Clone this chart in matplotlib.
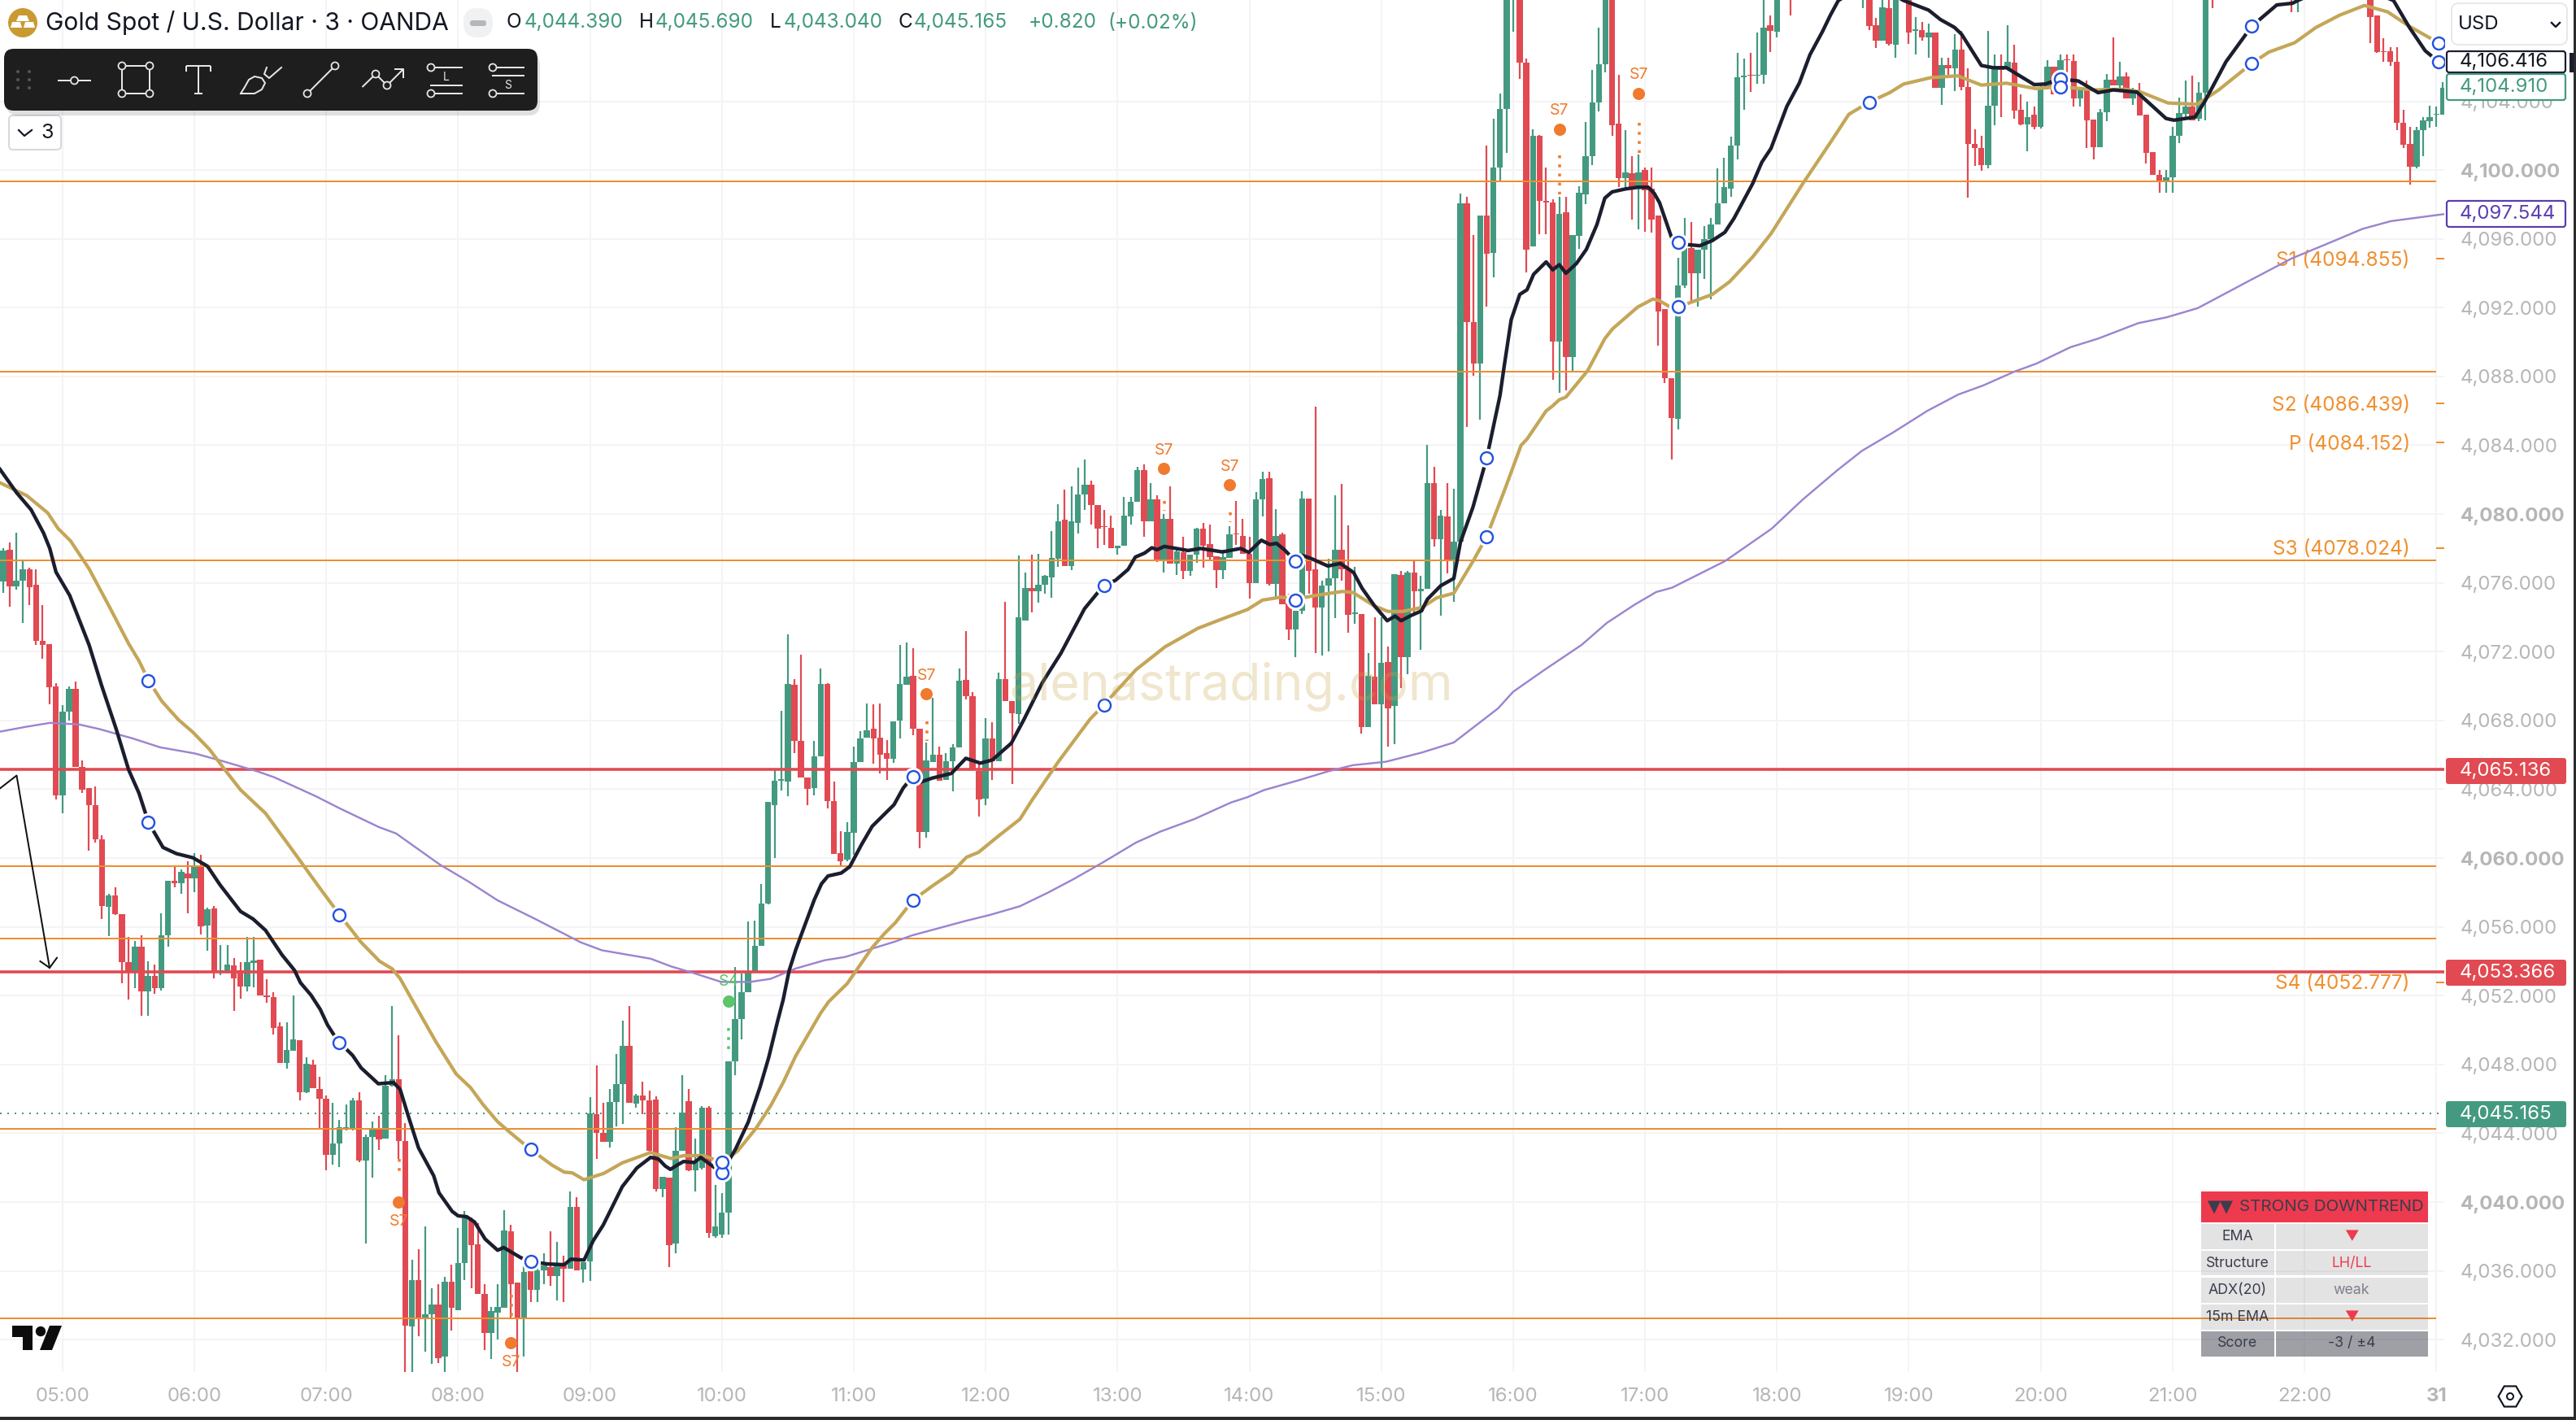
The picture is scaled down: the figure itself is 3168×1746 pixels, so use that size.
import numpy as np
import matplotlib
matplotlib.use("Agg")
import matplotlib.pyplot as plt
from matplotlib.patches import Rectangle, FancyBboxPatch, Circle, RegularPolygon, Polygon

plt.rcParams['font.family'] = ['Inter', 'DejaVu Sans']

nan = float("nan")  # bars that sit above the visible frame

# -------- candles: first value is the 04:33 bar, one bar every 3 minutes --------
first_bar = -9
opens = [
    4076.09,4077.93,4075.78,4076.12,4076.8,4075.87,4072.65,4072.43,4069.97,
    4063.64,4068.52,4069.85,4065.32,4064.06,4063.06,4061.07,4057.18,4057.81,4056.73,
    4053.95,4053.33,4054.85,4052.25,4053.15,4052.43,4055.5,4058.68,4058.54,4059.1,
    4058.8,4059.53,4056.1,4057.07,4053.33,4053.37,4053.74,4053.47,4052.54,4053.9,
    4054.1,4052.03,4051.9,4050.2,4048.08,4048.8,4049.4,4046.38,4048,4046.56,
    4046.02,4042.75,4043.4,4044.2,4044.3,4045.9,4042.43,4043.77,4044.2,4043.68,
    4046.77,4047.15,4043.54,4032.75,4035.47,4033.27,4033.48,4034.04,4031,4035.37,
    4033.72,4036.45,4038.95,4037.53,4034.65,4032.4,4033.55,4033.87,4038.3,4035.34,
    4033.27,4036,4034.9,4036.05,4036.23,4035.7,4036.3,4036.14,4039.7,4036.06,
    4036.55,4045.1,4044,4043.5,4045.84,4046.88,4049.07,4045.7,4046.2,4045.9,
    4045.98,4040.74,4041.4,4037.6,4043,4045.86,4041.83,4042,4045.5,4038,
    4038.1,4039.4,4048.2,4050.63,4052.2,4053.34,4054.9,4057.37,4063.1,4064.5,
    4064.44,4070.06,4066.8,4064.68,4064.07,4065.93,4070.1,4063.3,4060.3,4059.9,
    4061.47,4065.6,4067,4067.5,4067,4066.08,4065.76,4067.98,4070.06,4070.59,
    4067.5,4061.5,4065.6,4066,4064.56,4065.65,4066.44,4070.35,4069.43,4065.04,
    4063.47,4066.97,4065.64,4070.4,4069.14,4068.35,4073.8,4075.68,4075.5,4075.9,
    4076.3,4077.4,4079.65,4077,4079.5,4081.16,4081.7,4080.53,4079.3,4079.2,
    4078,4078.17,4079.85,4080.72,4082.58,4079.6,4080.85,4077.3,4079.7,4077.1,
    4077.8,4076.7,4077.65,4079.14,4078.25,4077.54,4076.75,4077.46,4078.86,4078.75,
    4077.7,4076,4080.87,4082.1,4075.96,4078.83,4074.8,4073.28,4074.4,4080.88,
    4076.78,4074.57,4075.83,4076.26,4077.9,4076.8,4074.2,4074.18,4067.6,4070.56,
    4068.95,4071.4,4068.85,4076.46,4071.66,4076.62,4075.5,4075.64,4081.78,4078.56,
    4079.88,4077.25,4078.39,4098.05,4091.17,4088.75,4097.38,4095.2,4100.14,4103.53,
    4110.9,4111,4106.24,4095.57,4102,4098.19,4098.1,4090.05,4097.56,4089.15,
    4096.16,4098.6,4100.8,4103.94,4106.14,4110.5,4102.7,4099.55,4099.8,4099,
    4100,4098.9,4097.38,4091.9,4087.9,4085.53,4093.3,4095.48,4093.98,4095.39,
    4096,4096.84,4098.06,4098.9,4101.4,4105.4,4105.55,4105.5,4105.55,4108.4,
    4108.05,4110,4111.5,*[nan]*10,
    4110.5,4111,4108.4,4107.5,4109.43,4107.3,4111,4110.5,4108.1,4108.15,4107.7,4108,4104.77,4106.1,4105.9,4107,4104.85,
    4101.5,4101.3,4100.3,4103.75,4105.85,4105.85,4106.25,4103.5,4102.64,4103.2,
    4102.5,4104.8,4106.03,4105.1,4106.45,4106.35,4104.18,4104.8,4102.95,4101.35,
    4103.35,4105.25,4104.94,4105.46,4104.15,4104.5,4103.2,4101.05,4099.7,4099.33,
    4099.6,4102,4103.25,4103.7,4102.96,4104.5,4111,*[nan]*11,4111,4110,*[nan]*10,
    4111,4109,4106.9,4106.9,4106.3,4102.77,4101.5,4100.2,4102.3,4102.85,4103.2,4103.2,
]
highs = [
    4078.0,4078.35,4078.9,4077.26,4076.87,4076.8,4074.7,4072.43,4070.15,
    4068.88,4070,4070.25,4065.7,4064.06,4064.15,4061.34,4057.9,4058.3,4056.73,
    4055.44,4055.2,4055.5,4054,4053.83,4056.8,4058.7,4059.53,4059.35,4059.8,
    4060.3,4060.17,4057.1,4057.2,4054.95,4054.95,4054.2,4053.95,4055.4,4055.4,
    4054.1,4052.98,4052.2,4050.45,4050.45,4052,4049.4,4048.44,4048.26,4047.3,
    4046.2,4045.75,4044.8,4045.66,4046.07,4046.4,4043.95,4044.7,4045.03,4047.36,
    4051.4,4049.7,4044.6,4036.65,4037.25,4038.57,4034.98,4035.25,4035.64,4036.36,
    4038.48,4039.5,4039.1,4038.75,4035.25,4033.9,4035.25,4039.55,4038.66,4035.34,
    4036.4,4037.04,4036.4,4037.04,4038.3,4037.7,4036.86,4040.63,4040.27,4036.5,
    4046.1,4047.96,4045.75,4046.56,4048.6,4050.56,4051.4,4046.3,4047,4046.5,
    4046.17,4041.47,4041.4,4044.34,4047.38,4046.58,4043.7,4045.56,4045.56,4041,
    4040.5,4048.2,4053.65,4053.3,4056.3,4056.35,4058.48,4063.28,4065.16,4068.54,
    4073,4070.4,4071.84,4064.68,4066.8,4071,4070.15,4064.44,4061.54,4062.1,
    4066.5,4067.4,4069,4068.95,4069,4066.85,4067.93,4072.4,4072.52,4072.2,
    4067.5,4066.7,4069.3,4066.5,4066.1,4066.6,4071,4073.2,4069.67,4065.64,
    4068.13,4067.9,4070.78,4074.88,4069.14,4077.57,4076.6,4077.65,4077.68,4076.46,
    4079,4080.56,4081.43,4081.6,4082.7,4083.17,4081.95,4080.53,4080.25,4079.9,
    4078.17,4081,4081,4082.77,4082.9,4081.8,4081.1,4080,4081.6,4078,
    4078.67,4077.65,4079.2,4079.5,4079.4,4077.54,4077.9,4079.3,4080.75,4079.7,
    4078.67,4081.27,4082.45,4082.45,4080.3,4078.9,4075.36,4073.6,4081.35,4080.88,
    4086.24,4076.15,4077.4,4081.1,4081.74,4079.33,4076.94,4074.18,4071.9,4074,
    4074,4072.3,4076.5,4076.7,4076.7,4077.25,4076.4,4084.03,4082.77,4080.25,
    4081.78,4081.46,4098.64,4098.46,4096.2,4097.38,4101.44,4103,4104.47,4113,
    4113,4112,4106.47,4102.39,4102.04,4100.14,4098.28,4098.46,4098.46,4096.2,
    4099.06,4102.8,4105.8,4108.3,4112,4111,4105.55,4102.3,4100.8,4100.9,
    4100.13,4100.14,4097.38,4091.9,4087.9,4094.9,4097.2,4097,4095.39,4096.74,
    4097.2,4100.1,4100.7,4101.93,4106.83,4106.47,4106.83,4108,4110,4109,
    4112,4112,4112,*[nan]*10,
    4112,4111.5,4108.84,4110.5,4110.5,4111,4111.5,4111,4108.9,4108.6,4108.5,4108,4106.55,4106.55,4107.9,4108.1,4105.9,
    4102.37,4102,4108.1,4106.7,4106.7,4108.4,4107.3,4104.4,4104,4103.7,
    4105,4106.4,4106.03,4106.7,4106.7,4106.7,4104.8,4105.2,4102.95,4103.55,
    4105.6,4107.7,4106.3,4105.7,4104.8,4105.05,4103.2,4101.05,4100,4100,
    4102.53,4104.2,4105.2,4105.5,4105.1,4113,4112,*[nan]*11,4112,4112,*[nan]*10,
    4112,4109,4107.65,4107.15,4107.15,4103.5,4102.5,4102.53,4103.1,4103.75,4103.7,4105.1,
]
lows = [
    4075.4,4074.6,4075.6,4073.65,4074.73,4072.38,4071.6,4068.94,4063.42,
    4062.6,4068,4065.32,4063.8,4060.44,4060.9,4056.46,4055.46,4056.7,4052.7,
    4051.76,4052.45,4050.83,4050.83,4052.1,4052.3,4054.85,4058.3,4057.9,4056.8,
    4058,4055.55,4054.6,4053,4053.2,4053.3,4051.1,4051.8,4052.25,4052.5,
    4052.03,4051.58,4049.73,4048.08,4047.76,4048.8,4045.9,4046.33,4046.6,4044.3,
    4041.85,4042.2,4042.03,4044.15,4044.15,4042.3,4037.6,4041.44,4043.05,4043.68,
    4046.73,4042.5,4030.1,4030.1,4032.2,4031.3,4030.6,4030.66,4030.1,4032.55,
    4033.72,4035.44,4035,4034.65,4031.4,4030.9,4032,4033.87,4033.27,4030.1,
    4031,4034.17,4034.17,4035.25,4035.15,4034.3,4034.2,4036.14,4036.05,4035.34,
    4035.43,4042.5,4043.5,4043.18,4044.4,4044.55,4045.75,4045.5,4045.1,4042.9,
    4040.6,4040.3,4036.2,4037,4043,4041.8,4040.6,4041.9,4037.9,4037.9,
    4037.9,4038.1,4047.4,4049.47,4052.2,4053.34,4054.9,4057.3,4060,4063.95,
    4063.6,4066.1,4064.68,4063.06,4063.64,4065.93,4062.87,4060.26,4059.54,4059.83,
    4060.2,4065.6,4067,4065.47,4064.9,4064.56,4065.52,4066.97,4070.06,4067.16,
    4060.55,4061.18,4065.6,4064.5,4064.56,4063.9,4066.44,4069.2,4065.16,4062.4,
    4063.1,4064.56,4065.64,4069.14,4064.3,4067.8,4073.8,4074.3,4074.86,4075.36,
    4075.13,4076.94,4077,4076.75,4078.86,4080.25,4079.4,4078,4078.2,4078,
    4077.65,4078.17,4079.4,4080.72,4078.67,4079.6,4077.2,4076.6,4077.1,4076.45,
    4076.2,4076.43,4077.17,4076.9,4077.25,4075.7,4076.2,4077.46,4078.2,4077.7,
    4075.1,4076,4079.85,4075.83,4075.1,4074.76,4072.68,4071.7,4074.18,4075.36,
    4071.9,4071.8,4072,4073.95,4076.15,4073.1,4073.63,4067.24,4067.6,4068.95,
    4065.27,4066.5,4066.6,4069.9,4070.7,4074.1,4072.13,4075.64,4078.1,4074.1,
    4076.57,4074.89,4078.39,4085.08,4088.06,4085.5,4092.04,4093.76,4099.37,4101,
    4108.05,4105.3,4094.03,4095.57,4096.26,4096.26,4087.79,4087.07,4087.2,4088.24,
    4095.4,4098,4100.27,4103.43,4105.7,4102,4099,4098.8,4097.1,4096.56,
    4096.4,4096.38,4089.78,4087.6,4083.18,4084.9,4093.13,4092.4,4092.04,4093.67,
    4092.5,4096.84,4098.06,4098.46,4100.6,4103.5,4104.55,4105,4105,4106.85,
    4107.7,4110,4109,*[nan]*10,
    4109.4,4108.15,4107.1,4107.5,4107.26,4106.55,4110,4107.33,4106.7,4107.5,4106.55,4104.77,4103.8,4105.5,4104.6,4104.66,4098.4,
    4100.25,4099.96,4100.1,4102.6,4103.1,4105.8,4103,4102.6,4101.1,4102.37,
    4102.4,4104.7,4104.4,4104.7,4105.7,4103.67,4103.7,4101.27,4100.64,4101.35,
    4102.85,4104.94,4104.8,4104.15,4103.8,4103.16,4100.4,4099.7,4098.67,4098.67,
    4098.67,4101.55,4103.1,4102.9,4102.85,4102.9,4109.42,*[nan]*11,4109.2,4109.2,*[nan]*10,
    4107.4,4106.8,4106.27,4106.05,4102.3,4101.3,4099.14,4100.1,4100.8,4102.45,4102.5,4103.2,
]
closes = [
    4077.86,4075.78,4076.12,4076.8,4075.73,4072.65,4072.38,4069.94,4063.64,
    4068.52,4069.85,4065.32,4063.97,4063.06,4061.07,4057.23,4057.81,4056.73,4053.95,
    4053.33,4054.85,4052.25,4053.15,4052.43,4055.5,4058.68,4058.54,4059.2,4058.8,
    4059.53,4056.05,4057.04,4053.33,4053.47,4053.8,4052.99,4052.54,4053.95,4054.06,
    4052.03,4051.9,4050.1,4048.08,4048.85,4049.48,4046.38,4048.03,4046.6,4046.02,
    4042.75,4043.4,4044.36,4044.37,4045.9,4042.4,4043.77,4044.2,4043.65,4046.77,
    4047.15,4043.54,4032.8,4035.47,4033.27,4033.48,4034.04,4030.94,4035.37,4033.84,
    4036.45,4039.07,4037.5,4034.65,4032.4,4033.67,4033.9,4038.33,4035.25,4033.27,
    4035.93,4034.9,4036.05,4036.3,4035.7,4036.3,4036.14,4039.73,4036.05,4036.5,
    4045.17,4044,4043.5,4045.84,4046.88,4049.1,4045.75,4046.2,4045.9,4043,
    4040.74,4041.47,4037.5,4043,4045.18,4041.83,4042.4,4045.5,4038.2,4038.6,
    4039.4,4048.2,4050.63,4052.2,4053.34,4054.9,4057.37,4063.28,4064.5,4064.6,
    4070.1,4066.8,4064.68,4064.03,4065.93,4070.1,4063.3,4060.26,4059.83,4061.5,
    4065.6,4066.97,4067.45,4066.97,4066,4065.76,4067.93,4070.1,4070.54,4067.5,
    4061.5,4065.7,4066,4064.5,4065.65,4066.42,4070.3,4069.4,4065.16,4063.4,
    4066.97,4065.64,4070.4,4069.14,4068.4,4073.99,4075.68,4075.5,4075.9,4076.43,
    4077.44,4079.6,4077,4079.57,4081.16,4081.7,4080.53,4079.14,4079.24,4078,
    4078.17,4079.9,4080.72,4082.58,4079.6,4080.85,4077.25,4079.7,4077.1,4077.85,
    4076.7,4077.65,4079.14,4078.17,4077.5,4076.75,4077.5,4078.8,4078.8,4077.7,
    4076,4080.87,4082.06,4075.96,4078.75,4074.76,4073.28,4074.4,4080.92,4076.7,
    4074.57,4075.83,4076.26,4077.9,4076.8,4074.13,4074.26,4067.6,4070.6,4068.95,
    4071.34,4068.7,4076.5,4071.66,4076.62,4075.5,4075.64,4081.78,4078.56,4079.93,
    4077.25,4078.39,4098.05,4091.14,4088.75,4097.38,4095.12,4100.14,4103.53,4111,
    4112,4106.24,4095.39,4102,4098.19,4098.13,4090.05,4097.47,4089.15,4096.2,
    4098.7,4100.8,4103.94,4106.14,4110.5,4102.6,4099.55,4099.87,4099,4099.87,
    4098.82,4097.1,4091.77,4087.9,4085.6,4093.3,4095.48,4093.98,4095.39,4096,
    4096.84,4098.06,4099,4101.4,4105.4,4105.5,4105.48,4105.55,4108.3,4108.1,
    4110,4111.5,4110.5,*[nan]*10,
    4111,4108.36,4107.5,4109.46,4107.34,4110.2,4110.5,4108,4108.2,4107.7,4108,4104.77,4106.1,4105.9,4107,4104.85,4101.5,
    4101.3,4100.3,4103.75,4105.85,4105.8,4106.3,4103.47,4102.64,4103.1,4102.5,
    4104.8,4106,4104.4,4106.4,4106.4,4104.18,4104.8,4102.9,4101.35,4103.35,
    4105.25,4104.94,4105.46,4104.15,4104.5,4103.16,4101,4099.7,4099.33,4099.6,
    4102,4103.3,4103.7,4102.9,4104.5,4111,4110,*[nan]*11,4110,4110.5,*[nan]*10,
    4108.9,4106.86,4106.85,4106.27,4102.75,4101.45,4100.2,4102.3,4102.9,4103.1,4103.27,4104.78,
]

# -------- moving averages, read at bar positions --------
fast_x = [-9.47,-6.95,-4.75,-2.87,-1.92,-0.98,1.1,4.05,5.94,8.15,10.03,11.6,13.05,15.25,17.27,19.78,21.99,23.88,27,28.9,30.8,
          33.3,35.2,36.1,37.7,39.1,40.2,41.2,42.1,44,45.3,47.9,50.2,51.2,52.5,54,56.3,57.1,59.1,60,61.3,62.5,64.1,66,66.9,69.5,71,
          73.6,76.1,77.1,79.1,80.5,82,83.6,84.9,87.1,89.2,90.4,91.4,92.2,93.3,94.2,95.8,96.8,98.9,100,102.1,104,105.8,107.1,108.4,
          109.3,110.2,111.2,112.1,114,115.1,116.1,118.1,119.4,121.2,122.8,126.1,127.5,128.9,130,131.9,134.8,137,139.2,141,143.9,
          145.8,148.6,151.4,155,157.9,159.7,161.6,162.7,164.1,165.2,166,167.1,170.7,172.6,175.9,178.7,179.9,181.8,183.1,184.1,185.3,
          187,188,189.4,191.9,193.8,195.8,197.1,199,200.9,202.1,203,204.5,206.1,207,209,211,212,213.9,216,218,218.6,219.7,221,222.1,
          223.1,225,226,227,228,229.6,231.1,232.7,233.9,235,237,238.9,240.5,241.4,242.2,244,245,246.6,248.3,250.2,252.1,253.5,256.3,
          257.7,259.1,261.5,263.4,265,266.9,268.1,269.3,274,279.2,283,284.8,286.9,288,291,292.8,294.8,299,300.7,302.9,305.7,308.7,
          311,314.6,317,319,320.2,323.4,324.9,328.1,332,335.8,338.2,339,346,353.5,355.9,358.3,360.3]
fast_y = [4082.6,4081.24,4080.25,4078.9,4078,4076.63,4075.27,4072.38,4070.03,4067.5,4065.14,4063.78,4062.07,4060.62,4060.26,4060.02,4059.53,4058.45,4056.9,4056.46,4055.8,
          4054.37,4053.47,4052.75,4052.03,4051.2,4050.3,4049.7,4049.25,4048.53,4047.8,4046.88,4046.95,4046.56,4044.94,4043.15,4041.53,4040.54,4039.46,4039.2,4039.15,4038.84,4037.85,4037.2,4037.36,4036.77,4036.54,
          4036.4,4036.36,4036.68,4036.63,4037.76,4038.66,4039.9,4040.9,4041.98,4042.6,4042.5,4042.1,4041.9,4042.17,4042.36,4042.3,4042.6,4042,4041.7,4043.1,4044.65,4046.7,4048.4,4050.44,
          4051.77,4053.46,4054.66,4055.6,4057.56,4058.5,4058.96,4059.13,4059.5,4060.8,4061.85,4063.1,4064.07,4064.73,4064.4,4064.65,4064.92,4065.8,4065.52,4065.7,4066.68,
          4068.05,4070.2,4071.9,4074.5,4075.85,4076.15,4076.78,4077.5,4077.73,4078.04,4077.93,4078.12,4077.88,4078,4077.8,4078,4077.77,4078.48,4078.23,4078.3,4077.93,
          4077.25,4077.6,4077.41,4076.98,4077.13,4076.6,4075.68,4074.65,4073.8,4074.07,4073.8,4074.1,4074.37,4075.05,4075.83,4076.26,4078.36,4080.4,4083.27,4086.89,4088.5,4091.3,4092.77,4093.04,
          4093.94,4094.66,4094.2,4094.5,4094,4094.57,4095.39,4096.83,4098.37,4098.73,4098.9,4099,4099,4098.64,4098.1,4096.1,4095.8,4095.66,4095.6,4095.9,4096.38,4097.2,4099.2,
          4100.45,4101.26,4103.7,4105.06,4106.7,4108.05,4109,4109.85,4111,4109.86,4109.3,4108.75,4108.3,4107.9,4106.08,4105.95,4105.95,4104.97,4105,4105.3,4105.18,4104.5,
          4104.66,4104.53,4103.7,4103,4102.9,4103.08,4104,4106.3,4108.36,4109.6,4109.7,4109.86,4111,4109.86,4108.3,4106.94,4106.3]
slow_x = [-9.47,-5.4,-2.24,-0.66,1.23,4.05,7.2,10.03,11.6,13.05,15.07,17.6,19.8,22.3,24.8,27,30.8,34.9,39,42.1,45.3,48.1,50,51.2,53.4,56.6,59.7,61.9,63.8,66,67.9,71,
          74.2,76.1,77.3,79.1,82.1,84.9,89.2,92.3,94.2,97.3,100,102.4,105.2,107.4,109.3,111.2,115,116.2,119,122.8,124.7,126.3,129,132,134.8,137.1,138.9,142,145.2,147,151.1,
          155.8,157.9,162.8,167.2,172.2,176,179.7,182,184.8,187,190.2,194.1,195.7,199,201,203.2,206.2,208.4,211,213.9,216,218.8,221.2,222.1,225,225.9,227,228,231.3,233.9,235.1,
          238.9,241.2,242.2,243.8,245,246.6,250.2,252.8,256.3,259.1,263.9,268.1,270.9,274,277.1,279.2,283.3,287.4,291,294.8,299.2,303,308.1,312.8,315.2,319.3,323.7,327,332,
          334.6,338.5,341.7,345.3,349.1,352.6,355.9,360.3]
slow_y = [4081.82,4081.07,4080.07,4079.16,4078.44,4076.81,4074.55,4072.47,4071.47,4070.33,4069.12,4068.04,4067.31,4066.32,4065.05,4063.97,4062.6,4060.45,4058.27,4056.67,4055.1,4054,4053.56,4053,4051.5,4049.34,4047.45,4046.65,4045.66,4044.67,4044.04,4043.06,
          4042.16,4041.74,4041.7,4041.3,4041.67,4042.28,4042.88,4042.53,4042.7,4042.7,4042.3,4042.97,4044.3,4045.6,4046.95,4048.5,4051,4051.65,4052.7,4054.8,4055.63,4056.24,4057.56,4058.4,4059.13,4060.05,4060.33,4061.3,4062.26,4063.35,4065.64,
          4068.06,4068.9,4070.95,4072.28,4073.36,4073.92,4074.45,4075,4075.17,4075.05,4075.28,4075.5,4075.44,4074.65,4074.34,4074.34,4074.57,4075.13,4075.4,4077.25,4078.7,4081.5,4084,4084.36,4086,4086.26,4086.65,4086.8,4088.34,4090.2,4090.78,
          4092.04,4092.5,4092.4,4092.04,4092.08,4092.26,4092.77,4093.5,4094.94,4096.3,4099.2,4101.6,4103.24,4103.95,4104.5,4105,4105.37,4105.48,4104.94,4105.05,4104.74,4104.85,4104.66,4104.7,4104.53,4103.9,4103.82,4104.66,4106.2,
          4106.86,4107.4,4108.28,4109,4109.57,4109.2,4108.36,4107.4]
long_x = [-9.47,-5.7,-1.9,2.5,5.6,10.7,14.8,20.1,23.9,29.5,32.1,38.4,42.1,48,50.6,57.2,61.6,66,71.7,78.6,81.8,89.2,92.3,95.5,99.9,104.3,107.4,111.2,115.6,118.7,122.5,126.3,128.8,
          137,140.7,145.2,149.5,153.3,157.7,162.8,166.5,171.6,177.2,179.7,182.2,187.8,191.9,195.7,200.7,206.2,211,217.7,220,224.7,228,230.4,234.2,238.4,241.7,244.1,252.1,259.2,263.9,269.1,272.9,
          277.6,282.8,287.5,291.3,296,299.3,304.5,308.7,314.8,319.1,323.8,331.8,338,344.6,348.8,353.1,361.2]
long_y = [4067.35,4067.62,4067.86,4067.77,4067.5,4066.95,4066.44,4066.08,4065.68,4065.05,4064.7,4063.6,4062.88,4061.8,4061.43,4059.63,4058.63,4057.54,4056.46,4055.1,4054.64,4054.15,4053.7,4053.34,4052.8,4052.8,4052.98,4053.58,4054.06,4054.25,4054.7,4055.15,4055.5,
          4056.35,4056.7,4057.2,4058,4058.77,4059.73,4060.9,4061.54,4062.26,4063.23,4063.54,4063.95,4064.56,4065.04,4065.4,4065.6,4066.14,4066.72,4068.7,4069.67,4070.93,4071.78,4072.4,4073.67,4074.73,4075.47,4075.72,4077.26,4079.15,4080.84,4082.53,4083.68,
          4084.74,4086,4086.95,4087.48,4088.28,4088.74,4089.7,4090.2,4091.1,4091.44,4091.97,4093.6,4094.85,4095.9,4096.58,4097.03,4097.44]

# circle markers sitting on the averages
dots_x = [13,42,71,100,129,158,187,216,245,303,332,360.3]
dots_fast = [4062.07,4049.25,4036.54,4041.7,4064.73,4075.85,4077.25,4083.27,4095.8,4105.3,4108.36,4106.3]
dots_slow_x = [13,42,71,100,129,158,187,216,245,274,303,332,360.3]
dots_slow = [4070.33,4056.67,4043.06,4042.3,4057.56,4068.9,4075,4078.7,4092.08,4103.95,4104.85,4106.2,4107.4]

# -------- levels --------
orange_levels = [4099.33,4088.3,4077.3,4059.55,4055.3,4044.25,4033.25]
red_levels = [4065.136,4053.366]
last_price = 4045.165
pivot_names = ["S1 (4094.855)","S2 (4086.439)","P (4084.152)","S3 (4078.024)","S4 (4052.777)"]
pivot_prices = [4094.855,4086.439,4084.152,4078.024,4052.777]

# -------- signal marks --------
signal_bar = [51,68,131,167,177,227,239]
signal_dot = [4040,4031.8,4069.57,4082.64,4081.7,4102.39,4104.47]
signal_text = [4038.85,4030.7,4070.6,4083.7,4082.77,4103.47,4105.55]
signal_stem_top = [4042.5,4034.6,4067.93,4080.77,4080.1,4100.87,4102.77]
signal_stem_low = [4041.8,4033.3,4066.8,4080.2,4079.54,4098.6,4101]

time_labels = ["05:00","06:00","07:00","08:00","09:00","10:00","11:00","12:00","13:00","14:00",
               "15:00","16:00","17:00","18:00","19:00","20:00","21:00","22:00","31"]

red = "#e14a52"
green = "#449a80"
orange = "#ee8e30"
marker_orange = "#f07a2e"
grey_text = "#b6b6b6"
W, H = 3168, 1746
px = 0.72  # one pixel in points at dpi 100

fig = plt.figure(figsize=(W/100, H/100), dpi=100, facecolor="white")
ax = fig.add_axes([0, 1-1687/H, 3006/W, 1687/H])
ax.set_xlim(-9.47, 361.2)
ax.set_ylim(4030.12, 4109.887)
for s in ax.spines.values():
    s.set_visible(False)

# grid
ax.set_axisbelow(True)
ax.yaxis.tick_right()
price_ticks = np.arange(4032, 4108, 4)
ax.set_yticks(price_ticks)
ax.set_yticklabels([f"{p:,.3f}" for p in price_ticks], fontsize=17.3, color=grey_text)
for lab, p in zip(ax.get_yticklabels(), price_ticks):
    if p % 20 == 0:
        lab.set_fontweight("bold")
ax.set_xticks(np.arange(0, 380, 20))
ax.set_xticklabels(time_labels, fontsize=17.3, color=grey_text)
ax.get_xticklabels()[-1].set_fontweight("bold")
ax.tick_params(axis="both", length=0)
ax.tick_params(axis="y", pad=14)
ax.tick_params(axis="x", pad=14)
ax.grid(True, color="#f4f4f6", linewidth=2*px)

# candles
x = first_bar + np.arange(len(opens))
o, h, l, c = map(np.array, (opens, highs, lows, closes))
up = c >= o
colors = np.where(up, green, red)
seen = ~np.isnan(o)
ax.vlines(x[seen], l[seen], h[seen], colors=colors[seen], linewidth=2.2*px, zorder=2)
ax.bar(x[seen], np.abs(c-o)[seen], bottom=np.minimum(o, c)[seen], width=0.92,
       color=colors[seen], linewidth=0, zorder=2.1)

# horizontal levels
ax.hlines(orange_levels, -9.47, 360, colors=orange, linewidth=2*px, zorder=3)
for lv in red_levels:
    ax.axhline(lv, color=red, linewidth=3.6*px, zorder=3)
ax.axhline(last_price, color=green, linewidth=2*px, linestyle=(0, (1, 3.5)), zorder=3)

# pivots on the right
for name, p in zip(pivot_names, pivot_prices):
    ax.text(356, p-0.1, name, ha="right", va="center", fontsize=17.6, color="#f0902f", zorder=4)
ax.hlines(pivot_prices, 360, 361.2, colors=orange, linewidth=2*px, zorder=3)

# moving averages
ax.plot(long_x, long_y, color="#9b84cf", linewidth=2.4*px, zorder=4)
ax.plot(slow_x, slow_y, color="#c4a658", linewidth=4.2*px, zorder=5)
ax.plot(fast_x, fast_y, color="#1b1e2e", linewidth=4.4*px, zorder=6)

for xs, ys in ((dots_x, dots_fast), (dots_slow_x, dots_slow)):
    ax.plot(xs, ys, ls="", marker="o", ms=22*px, mfc="white", mec="white", zorder=7)
    ax.plot(xs, ys, ls="", marker="o", ms=15*px, mfc="white", mec="#2452e0", mew=2.4*px, zorder=8)

# signals
for i, (b, d, t, s1, s2) in enumerate(zip(signal_bar, signal_dot, signal_text, signal_stem_top, signal_stem_low)):
    ax.plot([b], [d], marker="o", ms=15*px, color=marker_orange, mew=0, zorder=7)
    ax.text(b, t, "S7", ha="center", va="center", fontsize=14, color=marker_orange, zorder=7)
    ax.plot([b+0.1, b+0.1], [s1, s2], color=marker_orange, linewidth=3.5*px,
            linestyle=(0, (1, 2.2)), zorder=7)
ax.plot([101], [4051.7], marker="o", ms=15*px, color="#5cc469", mew=0, zorder=7)
ax.text(101, 4052.8, "S4", ha="center", va="center", fontsize=14, color="#5cc469", zorder=7)
ax.plot([101, 101], [4050.1, 4048.9], color="#5cc469", linewidth=3.5*px, linestyle=(0, (1, 2.2)), zorder=7)

# hand drawn arrow
ax.plot([-9.47, -6.95, -1.95], [4064.05, 4064.8, 4053.62], color="#111111", linewidth=2*px, zorder=6)
ax.plot([-3.37, -1.95, -0.84], [4054, 4053.62, 4054.2], color="#111111", linewidth=2*px, zorder=6)

# watermark
ax.text(177.2, 4070, "alenastrading.com", ha="center", va="center", fontsize=45,
        color="#c9a84c", alpha=0.28, zorder=9)

# -------- screen furniture, placed in pixels --------
ui = fig.add_axes([0, 0, 1, 1], facecolor="none")
ui.set_xlim(0, W)
ui.set_ylim(H, 0)
ui.axis("off")


def box(x0, y0, x1, y1, fc, ec="none", lw=0, alpha=None, z=2, rnd=0):
    if rnd:
        p = FancyBboxPatch((x0, y0), x1-x0, y1-y0, boxstyle=f"round,pad=0,rounding_size={rnd}",
                           fc=fc, ec=ec, lw=lw*px, alpha=alpha, zorder=z)
    else:
        p = Rectangle((x0, y0), x1-x0, y1-y0, fc=fc, ec=ec, lw=lw*px, alpha=alpha, zorder=z)
    ui.add_patch(p)


def line(xs, ys, color="#e6e6e6", lw=2, z=6):
    ui.plot(xs, ys, color=color, lw=lw*px, zorder=z, solid_capstyle="butt")


def node(cx, cy, r=4.5, z=7):
    ui.add_patch(Circle((cx, cy), r, fc="#1e1e1e", ec="#e6e6e6", lw=1.8*px, zorder=z))


# title row
ui.add_patch(Circle((28, 28), 18, fc="#c99a32", ec="none", zorder=3))
for pts in ([(23, 19), (33, 19), (36, 26), (20, 26)], [(15, 27), (25, 27), (27, 34), (13, 34)], [(31, 27), (41, 27), (43, 34), (29, 34)]):
    ui.add_patch(Polygon(pts, fc="white", ec="none", zorder=4))
ui.text(56, 28, "Gold Spot / U.S. Dollar · 3 · OANDA", va="center", fontsize=21.6, color="#131722", zorder=4)
box(570, 10, 606, 46, "#f0f1f2", rnd=17)
box(578, 25, 598, 32, "#b5b7bb", rnd=3, z=3)
for xp, t, col in [(622, "O", "#131722"), (645, "4,044.390", green), (786, "H", "#131722"), (806, "4,045.690", green),
                   (947, "L", "#131722"), (964, "4,043.040", green), (1104, "C", "#131722"), (1124, "4,045.165", green),
                   (1265, "+0.820", green), (1362, "(+0.02%)", green)]:
    ui.text(xp, 28, t, va="center", fontsize=17.5, color=col, zorder=4)

# drawing toolbar
box(8, 66, 664, 142, "#000000", alpha=0.12, z=3, rnd=14)
box(5, 60, 661, 136, "#1e1e1e", z=4, rnd=12)
for dx in (22, 36):
    for dy in (88, 98, 108):
        ui.add_patch(Circle((dx, dy), 2, fc="#555555", ec="none", zorder=6))
line([71, 112], [99, 99])
node(91.5, 99)
line([150, 150], [81, 115])
line([184, 184], [81, 115])
line([150, 184], [81, 81])
line([150, 184], [115, 115])
for cx in (150, 184):
    for cy in (81, 115):
        node(cx, cy)
line([229, 259], [81, 81])
line([229, 229], [81, 88])
line([259, 259], [81, 88])
line([244, 244], [81, 115])
line([239, 249], [115, 115])
ui.plot([296, 313, 322, 326, 322, 313, 306, 301, 296], [115, 115, 110, 102, 96, 94, 98, 107, 115], color="#e6e6e6", lw=2*px, zorder=6)
ui.plot([328, 325, 331, 346], [83, 91, 96, 83], color="#e6e6e6", lw=2*px, zorder=6)
line([378, 412], [115, 81])
node(378, 115)
node(412, 81)
line([445.5, 462, 476, 496], [107, 91, 105, 85])
node(462, 91)
node(476, 105)
ui.plot([486, 496, 496], [85, 85, 95], color="#e6e6e6", lw=2*px, zorder=6)
line([530, 569], [83, 83])
line([529, 569], [105, 105])
line([530, 569], [115, 115])
node(530, 83)
node(530, 115)
ui.text(549, 95, "L", ha="center", va="center", fontsize=10, color="#e6e6e6", zorder=6)
line([606, 645], [83, 83])
line([605, 645], [93, 93])
line([606, 645], [115, 115])
node(606, 83)
node(606, 115)
ui.text(625, 105, "S", ha="center", va="center", fontsize=10, color="#e6e6e6", zorder=6)

# interval button
box(11, 142, 75, 184, "white", ec="#d7d8da", lw=2, rnd=5)
ui.plot([23, 30, 39], [160, 167, 160], color="#131722", lw=2.2*px, zorder=4)
ui.text(58, 164, "3", ha="center", va="center", fontsize=18, color="#131722", zorder=4)

# white strip behind the price scale boxes
box(3015, 4, 3157, 55, "white", ec="#e8e8ea", lw=2, z=3, rnd=9)
ui.text(3023, 30, "USD", va="center", fontsize=17.3, color="#131722", zorder=4)
ui.plot([3138, 3143, 3148], [28, 33, 28], color="#131722", lw=2.4*px, zorder=4)

# price boxes on the axis
for y0, y1, txt, col in [(63, 89, "4,106.416", "#1b1e2e"), (91, 123, "4,104.910", green), (247, 279, "4,097.544", "#5b3db1")]:
    box(3009, y0, 3155, y1, "white", ec=col, lw=2.2, z=5, rnd=3)
    ui.text(3025, (y0+y1)/2, txt, va="center", fontsize=17.3, color=col if col != "#1b1e2e" else "#131722", zorder=6)
box(3160, 65, 3165, 89, "#1b1e2e", z=5)
for yc, txt, col in [(948, "4,065.136", red), (1196, "4,053.366", red), (1370, "4,045.165", green)]:
    box(3008, yc-16, 3156, yc+16, col, z=5, rnd=3)
    ui.text(3025, yc, txt, va="center", fontsize=17.3, color="white", zorder=6)

# status table
ink = "#3a3d4c"
box(2707, 1465, 2986, 1503, "#ee3a4e", z=3)
ui.text(2715, 1484, "▼▼", va="center", fontsize=15, color=ink, zorder=4, family=["DejaVu Sans"])
ui.text(2754, 1484, "STRONG DOWNTREND", va="center", fontsize=14.8, color=ink, zorder=4)
rows_y = [(1505, 1536), (1538, 1568), (1571, 1602), (1604, 1635)]
row_names = ["EMA", "Structure", "ADX(20)", "15m EMA"]
row_vals = ["▼", "LH/LL", "weak", "▼"]
row_cols = ["#ee3a4e", "#ee3a4e", "#7e808a", "#ee3a4e"]
for (y0, y1), n, v, col in zip(rows_y, row_names, row_vals, row_cols):
    box(2707, y0, 2797, y1, "#73757c", alpha=0.2, z=3)
    box(2799, y0, 2986, y1, "#73757c", alpha=0.2, z=3)
    ui.text(2752, (y0+y1)/2, n, ha="center", va="center", fontsize=12.8, color=ink, zorder=4)
    ui.text(2892, (y0+y1)/2, v, ha="center", va="center", fontsize=12.5 if v == "▼" else 12.8, color=col, zorder=4,
            family=["Inter", "DejaVu Sans"])
box(2707, 1637, 2797, 1668, "#41414f", alpha=0.5, z=3)
box(2799, 1637, 2986, 1668, "#41414f", alpha=0.5, z=3)
ui.text(2752, 1652, "Score", ha="center", va="center", fontsize=12.8, color=ink, zorder=4)
ui.text(2892, 1652, "-3 / ±4", ha="center", va="center", fontsize=12.8, color=ink, zorder=4)

# TradingView mark
ui.add_patch(Polygon([(15, 1630), (40, 1630), (40, 1660), (28, 1660), (28, 1644), (15, 1644)], fc="#0c0c0c", ec="none", zorder=4))
ui.add_patch(Circle((50, 1637), 6.2, fc="#0c0c0c", ec="none", zorder=4))
ui.add_patch(Polygon([(61, 1630), (76, 1630), (64, 1660), (49, 1660)], fc="#0c0c0c", ec="none", zorder=4))

# settings hexagon
ui.add_patch(RegularPolygon((3087, 1717), 6, radius=14.5, orientation=np.pi/6, fc="white", ec="#131722", lw=2.2*px, zorder=4))
ui.add_patch(Circle((3087, 1717), 4, fc="white", ec="#131722", lw=2*px, zorder=5))

# window edge
box(0, 1742, W, H, "#2b2b2b", z=8)
box(W-3, 0, W, H, "#2b2b2b", z=8)

fig.savefig("out.png", dpi=100)
